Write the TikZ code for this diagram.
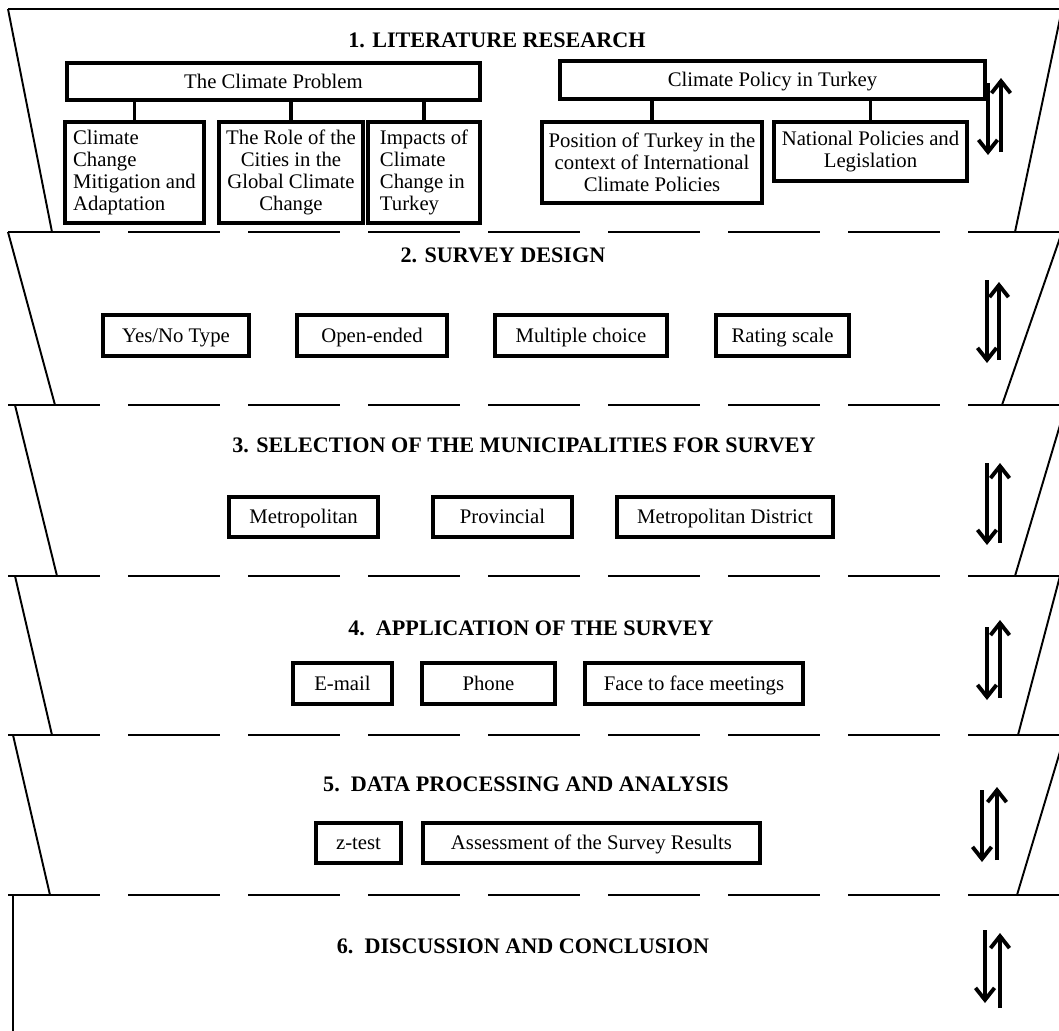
\documentclass[tikz,border=0pt]{standalone}
\usepackage{fontspec}
\setmainfont{Liberation Serif}
\usetikzlibrary{arrows.meta}

\begin{document}
\begin{tikzpicture}[
  >={Straight Barb[length=2.4mm,width=3.8mm]},
  edge/.style={draw=black, line width=1.1pt},
  divider/.style={edge, dash pattern=on 1.84cm off 0.56cm},
  box/.style={draw=black, line width=2.1pt, fill=white, inner sep=2pt,
    font=\fontsize{11.8}{12.4}\selectfont},
  item/.style={box, text height=7.8pt, text depth=0pt},
  link/.style={draw=black, line width=2.1pt},
  arrow/.style={->, draw=black, line width=2.2pt},
  heading/.style={font=\fontsize{12.6}{14}\selectfont\bfseries}
]
\useasboundingbox (0,0) rectangle (21.18,-20.6);
\clip (0,0) rectangle (21.18,-20.6);

% Funnel outline of the six stages.
\draw[edge] (0.16,-0.18) -- (21.30,-0.18);
\draw[edge] (0.16,-0.18) -- (1.04,-4.64);
\draw[edge] (21.24,-0.18) -- (20.30,-4.64);
\draw[divider] (0.16,-4.64) -- (21.18,-4.64);
\draw[edge] (0.16,-4.64) -- (1.10,-8.10);
\draw[edge] (21.24,-4.64) -- (20.04,-8.10);
\draw[divider] (0.16,-8.10) -- (21.18,-8.10);
\draw[edge] (0.30,-8.10) -- (1.14,-11.52);
\draw[edge] (21.32,-8.10) -- (20.30,-11.52);
\draw[divider] (0.16,-11.52) -- (21.18,-11.52);
\draw[edge] (0.30,-11.52) -- (1.04,-14.70);
\draw[edge] (21.20,-11.52) -- (20.36,-14.70);
\draw[divider] (0.16,-14.70) -- (21.18,-14.70);
\draw[edge] (0.26,-14.70) -- (1.00,-17.90);
\draw[edge] (21.30,-14.70) -- (20.34,-17.90);
\draw[divider] (0.16,-17.90) -- (21.18,-17.90);
\draw[edge] (0.26,-17.90) -- (0.26,-20.70);

% 1. Literature research.
\node[heading] (h1) at (9.94,-0.80) {1. LITERATURE RESEARCH};
\node[item, minimum width=8.26cm, minimum height=0.74cm] (climate) at (5.47,-1.63)
  {The Climate Problem};
\node[box, align=left, minimum width=2.78cm, minimum height=2.02cm] (mitig) at (2.69,-3.45)
  {Climate\\Change\\Mitigation and\\Adaptation};
\node[box, align=center, minimum width=2.88cm, minimum height=2.02cm] (cities) at (5.82,-3.45)
  {The Role of the\\Cities in the\\Global Climate\\Change};
\node[box, align=left, minimum width=2.24cm, minimum height=2.02cm] (impacts) at (8.48,-3.45)
  {Impacts of\\Climate\\Change in\\Turkey};
\node[item, minimum width=8.50cm, minimum height=0.76cm] (policy) at (15.45,-1.60)
  {Climate Policy in Turkey};
\node[box, align=center, minimum width=4.40cm, minimum height=1.62cm] (position) at (13.04,-3.25)
  {Position of Turkey in the\\context of International\\Climate Policies};
\node[box, align=center, minimum width=3.86cm, minimum height=1.18cm] (national) at (17.41,-3.03)
  {National Policies and\\Legislation};
\draw[link] (climate.south -| mitig.north) -- (mitig.north);
\draw[link] (climate.south -| cities.north) -- (cities.north);
\draw[link] (climate.south -| impacts.north) -- (impacts.north);
\draw[link] (policy.south -| position.north) -- (position.north);
\draw[link] (policy.south -| national.north) -- (national.north);

% 2. Survey design.
\node[heading] (h2) at (10.06,-5.10) {2. SURVEY DESIGN};
\node[item, minimum width=2.92cm, minimum height=0.82cm] (yesno) at (3.52,-6.71) {Yes/No Type};
\node[item, minimum width=3.00cm, minimum height=0.82cm] (open) at (7.44,-6.71) {Open-ended};
\node[item, minimum width=3.44cm, minimum height=0.82cm] (multi) at (11.62,-6.71) {Multiple choice};
\node[item, minimum width=2.66cm, minimum height=0.82cm] (rating) at (15.65,-6.71) {Rating scale};

% 3. Selection of the municipalities.
\node[heading] (h3) at (10.48,-8.90) {3. SELECTION OF THE MUNICIPALITIES FOR SURVEY};
\node[item, minimum width=2.98cm, minimum height=0.80cm] (metro) at (6.07,-10.34) {Metropolitan};
\node[item, minimum width=2.78cm, minimum height=0.80cm] (prov) at (10.05,-10.34) {Provincial};
\node[item, minimum width=4.32cm, minimum height=0.80cm] (district) at (14.50,-10.34)
  {Metropolitan District};

% 4. Application of the survey.
\node[heading] (h4) at (10.62,-12.56) {4.~~APPLICATION OF THE SURVEY};
\node[item, minimum width=1.98cm, minimum height=0.82cm] (email) at (6.85,-13.67) {E-mail};
\node[item, minimum width=2.66cm, minimum height=0.82cm] (phone) at (9.77,-13.67) {Phone};
\node[item, minimum width=4.36cm, minimum height=0.82cm] (face) at (13.88,-13.67)
  {Face to face meetings};

% 5. Data processing and analysis.
\node[heading] (h5) at (10.52,-15.68) {5.~~DATA PROCESSING AND ANALYSIS};
\node[item, minimum width=1.70cm, minimum height=0.80cm] (ztest) at (7.17,-16.86) {z-test};
\node[item, minimum width=6.74cm, minimum height=0.80cm] (assess) at (11.83,-16.86)
  {Assessment of the Survey Results};

% 6. Discussion and conclusion.
\node[heading] (h6) at (10.46,-18.92) {6.~~DISCUSSION AND CONCLUSION};

% Two-way arrows at the right of every stage.
\coordinate (d1s) at (19.76,-1.66); \coordinate (d1e) at (19.76,-3.10);
\coordinate (u1s) at (20.02,-3.04); \coordinate (u1e) at (20.02,-1.56);
\coordinate (d2s) at (19.74,-5.60); \coordinate (d2e) at (19.74,-7.26);
\coordinate (u2s) at (19.98,-7.20); \coordinate (u2e) at (19.98,-5.64);
\coordinate (d3s) at (19.74,-9.26); \coordinate (d3e) at (19.74,-10.90);
\coordinate (u3s) at (20.00,-10.86); \coordinate (u3e) at (20.00,-9.26);
\coordinate (d4s) at (19.74,-12.54); \coordinate (d4e) at (19.74,-14.00);
\coordinate (u4s) at (20.00,-13.96); \coordinate (u4e) at (20.00,-12.40);
\coordinate (d5s) at (19.64,-15.80); \coordinate (d5e) at (19.64,-17.24);
\coordinate (u5s) at (19.94,-17.20); \coordinate (u5e) at (19.94,-15.74);
\coordinate (d6s) at (19.70,-18.60); \coordinate (d6e) at (19.70,-20.06);
\coordinate (u6s) at (20.00,-20.16); \coordinate (u6e) at (20.00,-18.66);
\draw[arrow] (d1s) -- (d1e); \draw[arrow] (u1s) -- (u1e);
\draw[arrow] (d2s) -- (d2e); \draw[arrow] (u2s) -- (u2e);
\draw[arrow] (d3s) -- (d3e); \draw[arrow] (u3s) -- (u3e);
\draw[arrow] (d4s) -- (d4e); \draw[arrow] (u4s) -- (u4e);
\draw[arrow] (d5s) -- (d5e); \draw[arrow] (u5s) -- (u5e);
\draw[arrow] (d6s) -- (d6e); \draw[arrow] (u6s) -- (u6e);

\end{tikzpicture}
\end{document}
